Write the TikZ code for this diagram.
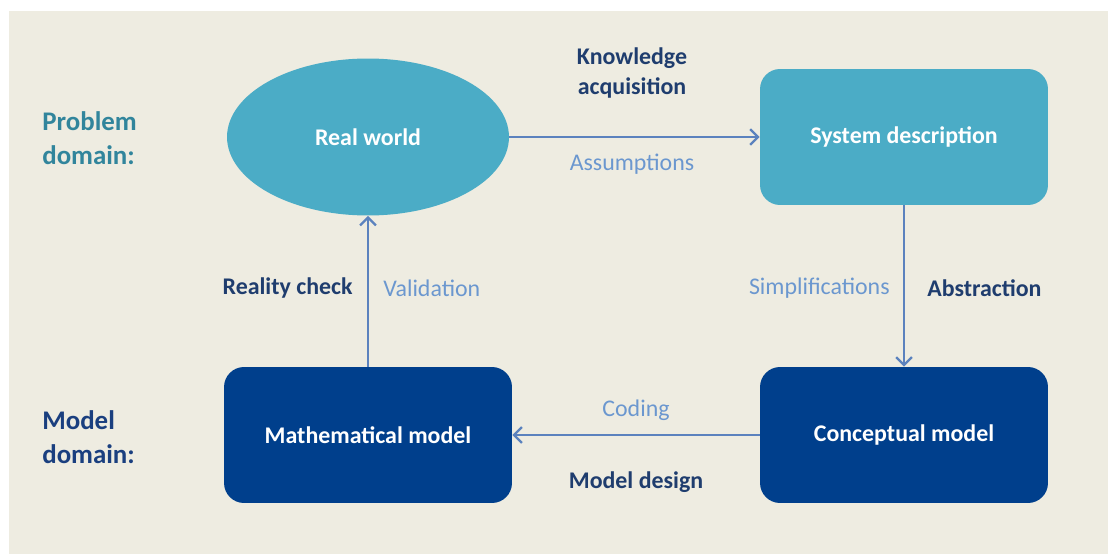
\documentclass[tikz,border=0pt]{standalone}
\usepackage{fontspec}
\setmainfont{Carlito}
\usepackage{tikz}
\usetikzlibrary{shapes.geometric,arrows.meta}
\definecolor{bgtan}{HTML}{EEECE1}
\definecolor{lightbox}{HTML}{4BACC6}
\definecolor{darkbox}{HTML}{003F8C}
\definecolor{arrowblue}{HTML}{5B82BE}
\definecolor{labeldark}{HTML}{1F3D6E}
\definecolor{labellight}{HTML}{6B97CF}
\definecolor{problemcol}{HTML}{31859C}
\definecolor{modelcol}{HTML}{1A3F7F}

\begin{document}
\begin{tikzpicture}[x=0.02cm,y=-0.02cm,
	font=\fontsize{13.6}{17}\selectfont,
	stagebox/.style={rectangle,rounded corners=0.4cm,minimum width=5.76cm,minimum height=2.72cm,text=white,font=\fontsize{13.6}{17}\selectfont\bfseries},
	flow/.style={draw=arrowblue,line width=1.3pt,-{Straight Barb[length=4.5pt,width=9pt]}},
	boldlabel/.style={inner sep=0pt,text=labeldark,font=\fontsize{13.6}{17}\selectfont\bfseries},
	thinlabel/.style={inner sep=0pt,text=labellight},
	domainlabel/.style={inner sep=0pt,anchor=west,align=left,font=\fontsize{15.3}{19}\selectfont\bfseries}]
		\fill[white] (0,0) rectangle (1108,554);
		\fill[bgtan] (9,11) rectangle (1108,554);

		\node[ellipse,fill=lightbox,minimum width=5.64cm,minimum height=3.14cm,text=white,font=\fontsize{13.6}{17}\selectfont\bfseries] (real) at (368,137) {Real world};
		\node[stagebox,fill=lightbox] (sysdesc) at (904,137) {System description};
		\node[stagebox,fill=darkbox] (mathmod) at (368,435) {Mathematical model};
		\node[stagebox,fill=darkbox] (concmod) at (904,435) {Conceptual model};

		\draw[flow] (real) -- (sysdesc);
		\draw[flow] (sysdesc) -- (concmod);
		\draw[flow] (concmod) -- (mathmod);
		\draw[flow] (mathmod) -- (real);

		\node[boldlabel,align=center] (knowledge) at (632,73) {Knowledge\\acquisition};
		\node[thinlabel] (assume) at (632,164) {Assumptions};
		\node[boldlabel,anchor=east] (reality) at (353,288) {Reality check};
		\node[thinlabel,anchor=west] (valid) at (383,288) {Validation};
		\node[thinlabel,anchor=east] (simple) at (890,288) {Simplifications};
		\node[boldlabel,anchor=west] (abstract) at (927,288) {Abstraction};
		\node[thinlabel] (coding) at (636,410) {Coding};
		\node[boldlabel] (design) at (636,482) {Model design};

		\node[domainlabel,text=problemcol] (probdom) at (42,138) {Problem\\domain:};
		\node[domainlabel,text=modelcol] (modeldom) at (42,437) {Model\\domain:};
	\end{tikzpicture}
\end{document}
